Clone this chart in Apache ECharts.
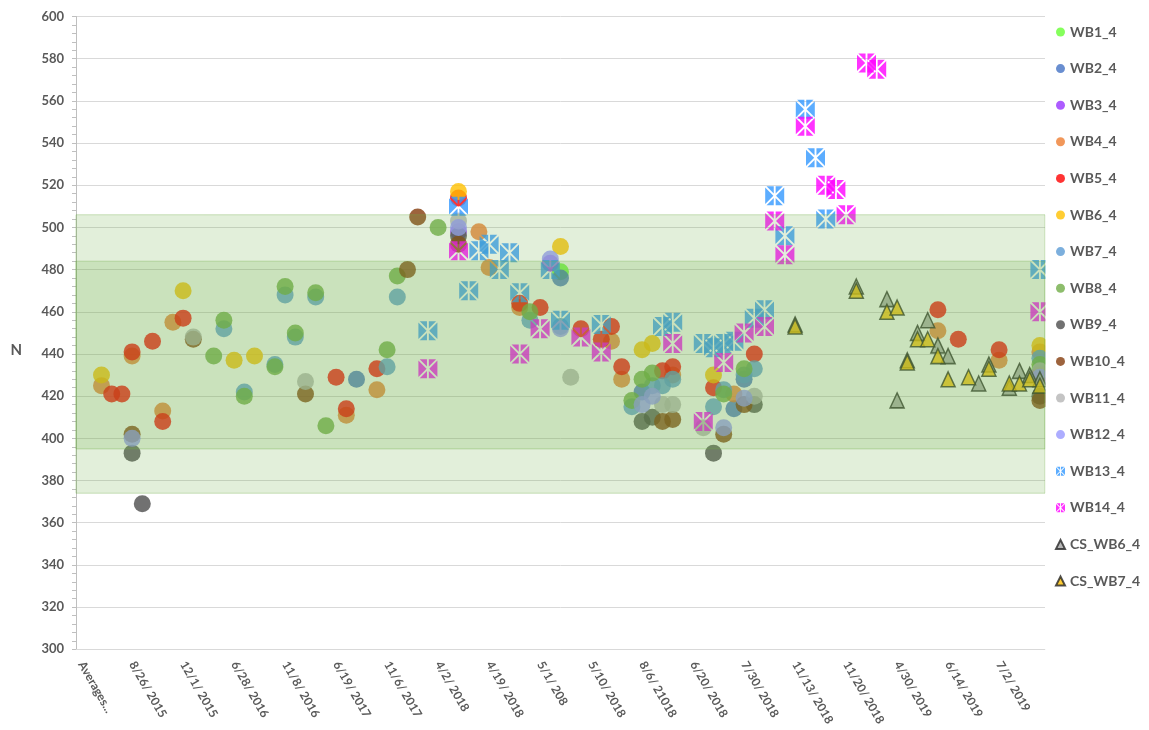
<!DOCTYPE html>
<html>
<head>
<meta charset="utf-8">
<script src="https://cdn.jsdelivr.net/npm/echarts@6/dist/echarts.min.js"></script>
<style>
html,body{margin:0;padding:0;background:#fff;}
#chart{width:1149px;height:730px;}
</style>
</head>
<body>
<div id="chart"></div>
<script>
// ---- tick labels (every 5th category is labelled) ----
const tickLabels = ['Averages...', '8/26/ 2015', '12/1/ 2015', '6/28/ 2016', '11/8/ 2016', '6/19/ 2017', '11/6/ 2017', '4/2/ 2018', '4/19/ 2018', '5/1/ 208', '5/10/ 2018', '8/6/ 21018', '6/20/ 2018', '7/30/ 2018', '11/13/ 2018', '11/20/ 2018', '4/30/ 2019', '6/14/ 2019', '7/2/ 2019'];
const categoryCount = 95;

// ---- reference bands (N) ----
const bandOuter = [374, 506];
const bandInner = [395, 484];

// ---- series values: [category index, N] ----
const WB1_4 = [[47,479],[94,433]];
const WB2_4 = [[27,428],[47,476],[55,422],[64,414],[65,428],[94,431]];
const WB3_4 = [[37,498],[46,483]];
const WB4_4 = [[2,425],[5,439],[8,413],[9,455],[26,411],[29,423],[39,498],[40,481],[43,462],[52,446],[53,428],[58,430],[64,421],[84,451],[90,437],[94,441]];
const WB5_4 = [[3,421],[4,421],[5,441],[7,446],[8,408],[10,457],[25,429],[26,414],[29,433],[37,514],[43,464],[45,462],[49,452],[51,447],[52,453],[53,434],[57,432],[58,434],[62,424],[66,440],[84,461],[86,447],[90,442],[94,430]];
const WB6_4 = [[2,430],[10,470],[15,437],[17,439],[37,517],[47,491],[55,442],[56,445],[62,430],[94,444]];
const WB7_4 = [[14,452],[16,422],[19,435],[20,468],[21,448],[23,467],[30,434],[31,467],[44,456],[47,453],[54,415],[56,425],[57,425],[58,428],[62,415],[63,423],[65,430],[66,433],[94,438]];
const WB8_4 = [[13,439],[14,456],[16,420],[19,434],[20,472],[21,450],[23,469],[24,406],[30,442],[31,477],[35,500],[44,460],[54,418],[55,428],[56,431],[63,421],[65,433],[94,435]];
const WB9_4 = [[5,393],[6,369],[37,496],[55,408],[56,410],[62,393],[66,416],[94,420]];
const WB10_4 = [[5,402],[11,447],[22,421],[32,480],[33,505],[37,492],[57,408],[58,409],[63,402],[65,416],[94,418]];
const WB11_4 = [[11,448],[22,427],[37,503],[48,429],[57,416],[58,416],[61,405],[66,420],[94,432]];
const WB12_4 = [[5,400],[37,500],[46,485],[47,452],[55,416],[56,420],[63,405],[65,419],[94,429]];
const WB13_4 = [[34,451],[37,510],[38,470],[39,489],[40,492],[41,480],[42,488],[43,469],[46,480],[47,456],[51,454],[57,453],[58,455],[61,445],[62,443],[63,445],[64,446],[66,457],[67,461],[68,515],[69,496],[71,556],[72,533],[73,504],[94,480]];
const WB14_4 = [[34,433],[37,489],[43,440],[45,452],[49,448],[51,441],[58,445],[61,408],[63,436],[65,450],[67,453],[68,503],[69,487],[71,548],[73,520],[74,518],[75,506],[77,578],[78,575],[94,460]];
const CS_WB6_4 = [[70,454],[76,472],[79,466],[80,418],[81,437],[82,450],[83,456],[84,444],[85,439],[88,426],[89,435],[91,424],[92,432],[93,430],[94,428]];
const CS_WB7_4 = [[70,453],[76,470],[79,460],[80,462],[81,436],[82,447],[83,447],[84,439],[85,428],[87,429],[89,433],[91,426],[92,426],[93,428],[94,425]];

const categories = Array.from({length: categoryCount}, (_, i) => (i % 5 === 0 ? tickLabels[i / 5] : ''));

const FONT = 'Lato, "Open Sans", sans-serif';
const TEXT = '#595959';
const PATTERN = 'path://M1.4,0L9,0L9,7.6ZM11,0L18.6,0L11,7.6ZM9,12.4L9,20L1.4,20ZM11,12.4L11,20L18.6,20ZM0,1.4L8.6,10L0,18.6ZM20,1.4L11.4,10L20,18.6Z';

function circle(name, color, data) {
  return {type: 'scatter', name, data, symbol: 'circle', symbolSize: 17, itemStyle: {color}};
}
function square(name, color, data) {
  return {type: 'scatter', name, data, symbol: PATTERN, symbolSize: 19, symbolKeepAspect: true, itemStyle: {color}};
}
function tri(name, color, data) {
  return {type: 'scatter', name, data, symbol: 'triangle', symbolSize: [14, 15],
    itemStyle: {color, borderColor: '#262626', borderWidth: 1.5}};
}

const series = [
  circle('WB1_4', '#66FF33', WB1_4),
  circle('WB2_4', '#4472C4', WB2_4),
  circle('WB3_4', '#9933FF', WB3_4),
  circle('WB4_4', '#ED7D31', WB4_4),
  circle('WB5_4', '#FF0000', WB5_4),
  circle('WB6_4', '#FFC000', WB6_4),
  circle('WB7_4', '#5B9BD5', WB7_4),
  circle('WB8_4', '#70AD47', WB8_4),
  circle('WB9_4', '#4D4D4D', WB9_4),
  circle('WB10_4', '#843C0C', WB10_4),
  circle('WB11_4', '#B5B5B5', WB11_4),
  circle('WB12_4', '#9999FF', WB12_4),
  square('WB13_4', '#3399FF', WB13_4),
  square('WB14_4', '#FF00FF', WB14_4),
  tri('CS_WB6_4', '#A5A5A5', CS_WB6_4),
  tri('CS_WB7_4', '#FFC000', CS_WB7_4)
];
// translucent bands lie over the markers
series[0].markArea = {
  silent: true,
  z: 5,
  itemStyle: {color: 'rgba(112,173,71,0.2)', borderColor: 'rgba(112,173,71,0.35)', borderWidth: 1},
  data: [
    [{yAxis: bandOuter[0]}, {yAxis: bandOuter[1]}],
    [{yAxis: bandInner[0]}, {yAxis: bandInner[1]}]
  ]
};

const chart = echarts.init(document.getElementById('chart'), null, {renderer: 'canvas'});
chart.setOption({
  animation: false,
  backgroundColor: '#fff',
  textStyle: {fontFamily: FONT},
  grid: {left: 76, right: 104, top: 16.5, bottom: 80.7},
  legend: {
    orient: 'vertical', left: 1050, top: 20,
    itemWidth: 9, itemHeight: 9, itemGap: 22.6,
    textStyle: {fontFamily: FONT, fontSize: 14, fontWeight: 'bold', color: TEXT, lineHeight: 14},
    data: series.map(s => s.name)
  },
  xAxis: {
    type: 'category', data: categories, boundaryGap: true,
    axisLine: {lineStyle: {color: '#d9d9d9'}},
    axisTick: {show: false},
    splitLine: {show: false},
    axisLabel: {interval: 4, rotate: -60, margin: 13, fontFamily: FONT, fontSize: 12, fontWeight: 'bold', color: TEXT}
  },
  yAxis: {
    type: 'value', min: 300, max: 600, interval: 20,
    name: 'N', nameLocation: 'middle', nameRotate: 0, nameGap: 54,
    nameTextStyle: {fontFamily: FONT, fontSize: 15, fontWeight: 'bold', color: TEXT, verticalAlign: 'top', lineHeight: 34},
    axisLine: {show: true, lineStyle: {color: '#bfbfbf'}},
    axisTick: {show: true, length: 4, lineStyle: {color: '#bfbfbf'}},
    minorTick: {show: true, splitNumber: 5, length: 4, lineStyle: {color: '#bfbfbf'}},
    splitLine: {lineStyle: {color: '#d9d9d9'}},
    axisLabel: {margin: 12, fontFamily: FONT, fontSize: 13, fontWeight: 'bold', color: TEXT}
  },
  // plot-area edge: markers are cut off at the right border, as in the original
  graphic: [{
    type: 'rect', z: 100, silent: true,
    shape: {x: 1045.5, y: 0, width: 6, height: 660},
    style: {fill: '#fff'}
  }],
  series
});
</script>
</body>
</html>
